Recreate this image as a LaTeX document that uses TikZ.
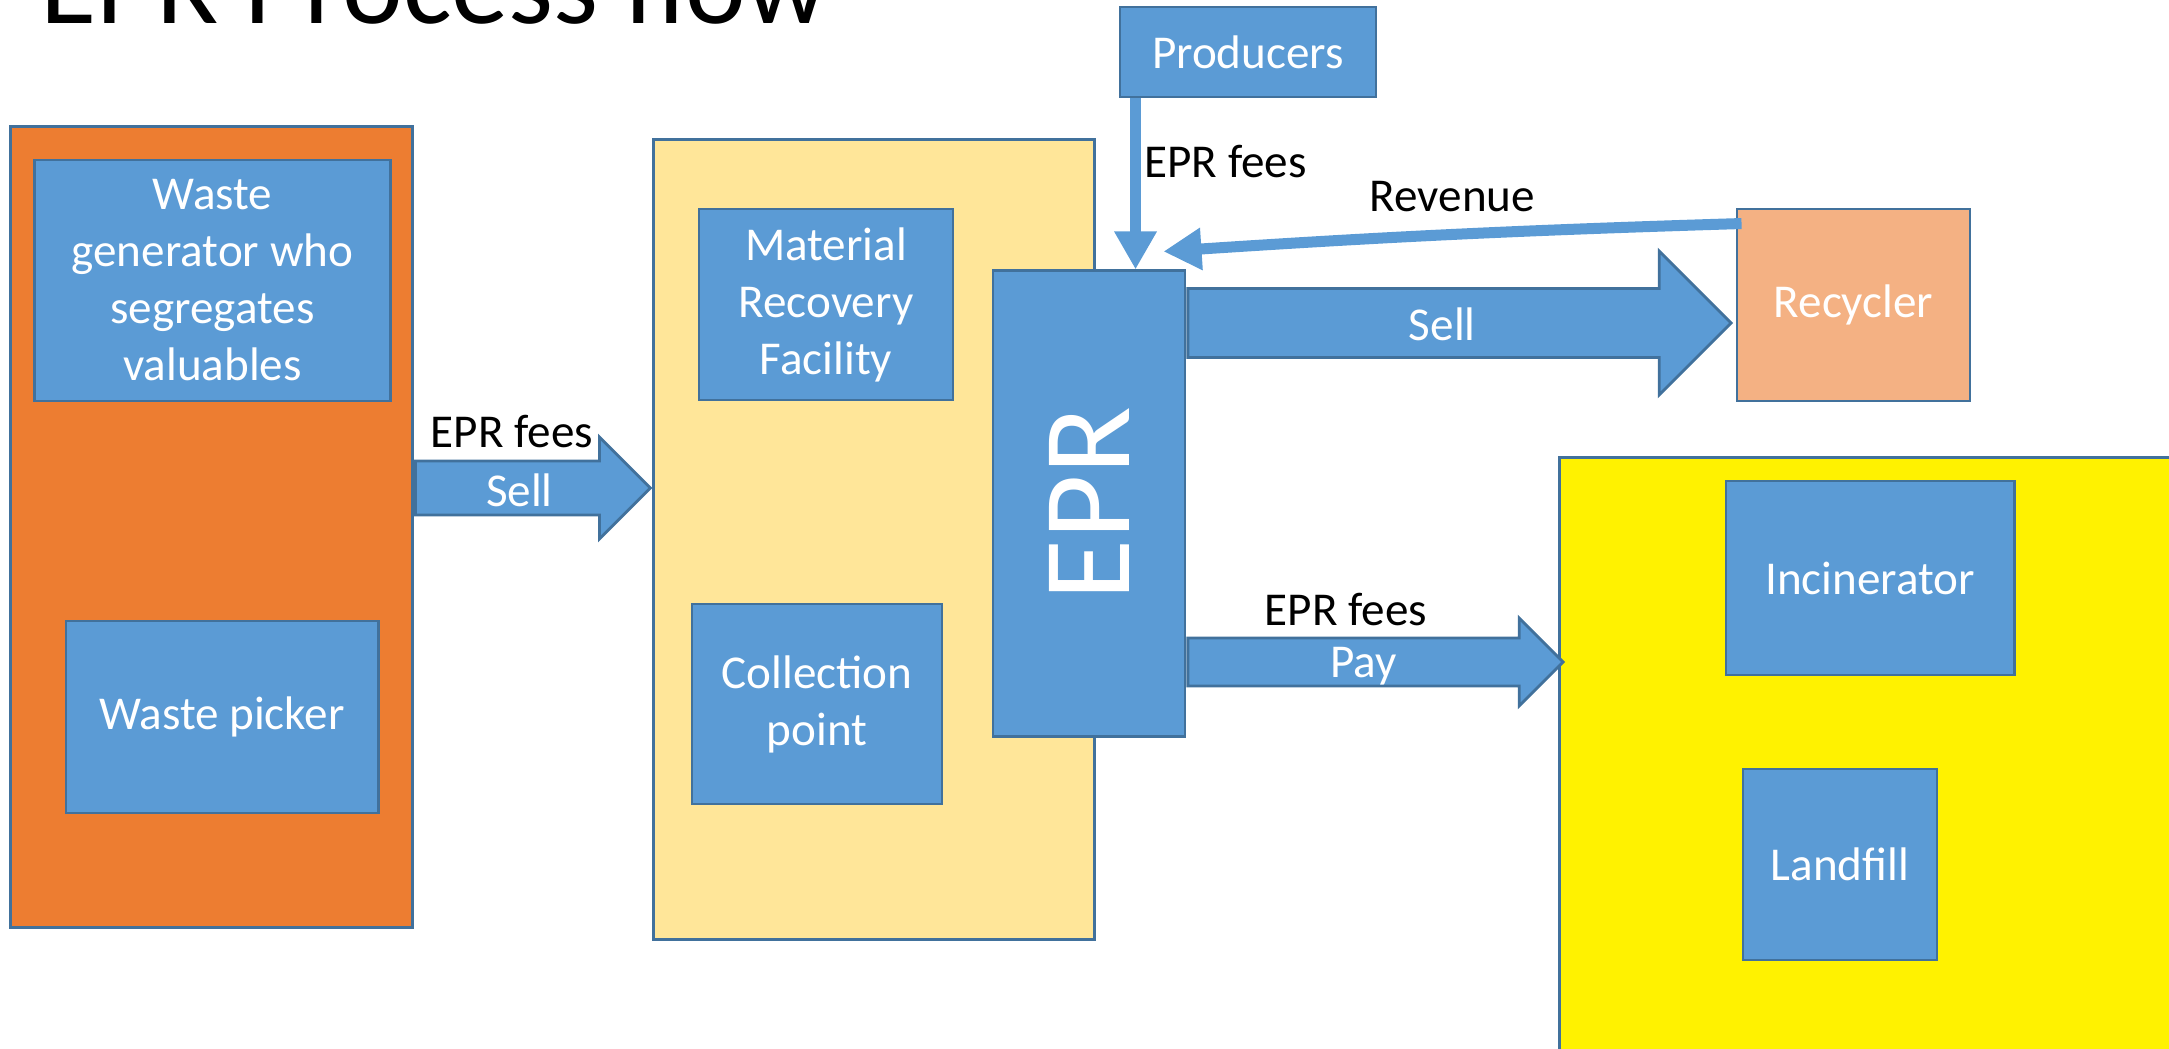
\documentclass[tikz,border=0pt]{standalone}
\usepackage{fontspec}
\setmainfont{Carlito}
\usetikzlibrary{shapes.arrows,arrows.meta,calc,positioning}
\definecolor{boxblue}{HTML}{5B9BD5}
\definecolor{edgeblue}{HTML}{41719C}
\definecolor{orangebg}{HTML}{ED7D31}
\definecolor{creambg}{HTML}{FFE699}
\definecolor{peach}{HTML}{F4B183}

\begin{document}
\begin{tikzpicture}[x=0.01cm,y=-0.01cm,
    every node/.style={font=\fontsize{13.4}{16.2}\selectfont},
    area/.style={draw=edgeblue,line width=0.8pt,inner sep=0pt},
    unit/.style={draw=edgeblue,line width=0.8pt,fill=boxblue,text=white,align=center},
    fat/.style={single arrow,draw=edgeblue,line width=0.8pt,fill=boxblue,text=white,inner ysep=0pt,inner xsep=0pt},
    thin/.style={boxblue,line width=0.11cm,-{Triangle[width=0.4cm,length=0.38cm]}},
    lbl/.style={inner sep=1pt,text=black}]
\useasboundingbox (0,0) rectangle (2169,1049);
\clip (0,0) rectangle (2169,1049);
    \node[anchor=base west,inner sep=0pt,font=\fontsize{32.7}{36}\selectfont] (0) at (40,24) {EPR Process flow};
    % containers
    \node[area,fill=orangebg,minimum width=4.01cm,minimum height=8cm] (1) at (211.5,527) {};
    \node[area,fill=creambg,minimum width=4.4cm,minimum height=7.99cm] (4) at (874,539.5) {};
    \node[area,fill=yellow,minimum width=7.4cm,minimum height=6.92cm] (10) at (1930,804) {};
    % boxes
    \node[unit,minimum width=3.55cm,minimum height=2.41cm] (2) at (212.5,280.5) {Waste\\generator who\\segregates\\valuables};
    \node[unit,minimum width=3.12cm,minimum height=1.92cm] (3) at (222,717) {Waste picker};
    \node[unit,minimum width=2.54cm,minimum height=1.91cm] (5) at (826,304.5) {Material\\Recovery\\Facility};
    \node[unit,minimum width=2.5cm,minimum height=2cm] (6) at (817,704) {Collection\\point};
    \node[unit,minimum width=1.92cm,minimum height=4.65cm,font=\fontsize{35.5}{40}\selectfont] (7) at (1089,503.5) {\rotatebox{90}{EPR}};
    \node[unit,minimum width=2.56cm,minimum height=0.9cm] (8) at (1248,52) {Producers};
    \node[unit,fill=peach,minimum width=2.33cm,minimum height=1.92cm] (9) at (1853.5,305) {Recycler};
    \node[unit,minimum width=2.88cm,minimum height=1.94cm] (11) at (1870,578) {Incinerator};
    \node[unit,minimum width=1.94cm,minimum height=1.91cm] (12) at (1840,864.5) {Landfill};
    % flows
    \node[fat,minimum height=2.35cm,single arrow head extend=0.24cm,text height=0.44cm,text depth=0.07cm,anchor=tip] (13) at (4.west |- 0,488) {Sell};
    \node[fat,minimum height=5.43cm,single arrow head extend=0.375cm,text height=0.5cm,text depth=0.16cm,anchor=tail] (14) at (7.east |- 0,323) {Sell};
    \node[fat,minimum height=3.75cm,single arrow head extend=0.2cm,text height=0.38cm,text depth=0.07cm,anchor=tail] (15) at (7.east |- 0,662) {Pay};
    \node[lbl] (16) at (512,432) {EPR fees};
    \node[lbl] (17) at (1346,610) {EPR fees};
    \coordinate (p) at ($(8.south west)+(17,0)$);
    \coordinate (q) at ($(9.north west)+(6,16)$);
    \coordinate (r) at ($(7.north east)+(-23,-18)$);
    \draw[thin] (p) -- (p |- 7.north) node[pos=0.37,right,lbl] (18) {EPR fees};
    \draw[thin] (q) to[bend right=1] node[midway,above=0.14cm,lbl] (19) {Revenue} (r);
\end{tikzpicture}
\end{document}
